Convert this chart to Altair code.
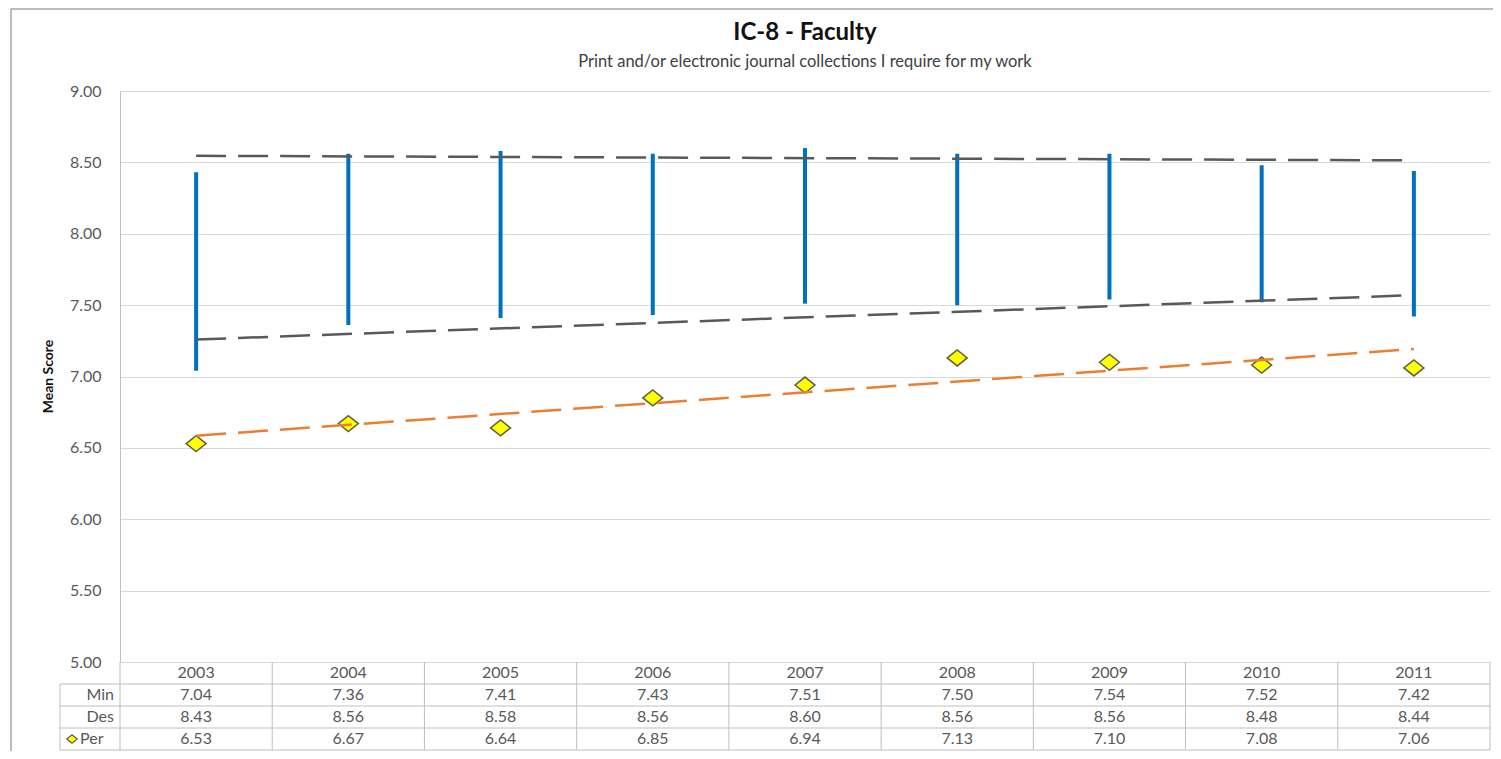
import altair as alt
import pandas as pd

# ---- data ----
years = ["2003", "2004", "2005", "2006", "2007", "2008", "2009", "2010", "2011"]
min_vals = [7.04, 7.36, 7.41, 7.43, 7.51, 7.50, 7.54, 7.52, 7.42]
des_vals = [8.43, 8.56, 8.58, 8.56, 8.60, 8.56, 8.56, 8.48, 8.44]
per_vals = [6.53, 6.67, 6.64, 6.85, 6.94, 7.13, 7.10, 7.08, 7.06]
y_ticks = [5.0, 5.5, 6.0, 6.5, 7.0, 7.5, 8.0, 8.5, 9.0]
row_labels = ["Min", "Des", "Per"]
title_text = "IC-8 - Faculty"
subtitle_text = "Print and/or electronic journal collections I require for my work"
y_title = "Mean Score"

# ---- layout ----
W, H = 1370, 571
ROW = 22
FONT = "Lato"
TXT = "#595959"
LINE = "#bfbfbf"
DIAMOND = "M-1,0L0,-0.8L1,0L0,0.8Z"

n = len(years)
df = pd.DataFrame({"year": years, "idx": list(range(n)),
                   "Min": min_vals, "Des": des_vals, "Per": per_vals})
bounds = pd.DataFrame({"b": [i - 0.5 for i in range(n + 1)]})
one = pd.DataFrame({"k": [0]})

xs = alt.Scale(domain=[-0.5, n - 0.5], nice=False, zero=False)
ys = alt.Scale(domain=[5, 9], nice=False, zero=False)
yaxis = alt.Axis(values=y_ticks, format=".2f", grid=True, gridColor="#d9d9d9",
                 gridWidth=1, domainColor=LINE, ticks=False, labelPadding=19,
                 labelFont=FONT, labelFontSize=16, labelColor=TXT, title=None)


def X(field="idx"):
    return alt.X(f"{field}:Q", scale=xs, axis=None)


def Y(field):
    return alt.Y(f"{field}:Q", scale=ys, axis=yaxis, title=None)


base = alt.Chart(df)

bars = base.mark_rule(strokeWidth=4, color="#0070C0").encode(
    x=X(), y=Y("Min"), y2="Des:Q")

diamonds = base.mark_point(shape=DIAMOND, filled=True, fill="#FFFF00",
                           stroke="#5f5f47", strokeWidth=1.5, size=400,
                           opacity=1).encode(x=X(), y=Y("Per"))


def trend(field, color):
    return base.transform_regression("idx", field).mark_line(
        color=color, strokeWidth=2.5, strokeDash=[30, 12]).encode(
        x=X(), y=Y(field))


trend_min = trend("Min", "#595959")
trend_des = trend("Des", "#595959")
trend_per = trend("Per", "#ED7D31")

# ---- data table below the plot ----
vlines = alt.Chart(bounds).mark_rule(color=LINE, strokeWidth=1).encode(
    x=X("b"), y=alt.value(H), y2=alt.value(H + 4 * ROW))

hlines = []
for i in range(1, 5):
    hlines.append(alt.Chart(one).mark_rule(color=LINE, strokeWidth=1).encode(
        x=alt.value(-60), x2=alt.value(W), y=alt.value(H + i * ROW)))
left_border = alt.Chart(one).mark_rule(color=LINE, strokeWidth=1).encode(
    x=alt.value(-60), y=alt.value(H + ROW), y2=alt.value(H + 4 * ROW))

year_txt = base.mark_text(font=FONT, fontSize=16, color=TXT).encode(
    x=X(), y=alt.value(H + ROW / 2), text="year:N")

val_txt = []
for i, f in enumerate(["Min", "Des", "Per"]):
    val_txt.append(base.mark_text(font=FONT, fontSize=16, color=TXT).encode(
        x=X(), y=alt.value(H + ROW * (i + 1) + ROW / 2),
        text=alt.Text(f"{f}:Q", format=".2f")))

lab_txt = []
for i, lab in enumerate(row_labels):
    is_per = lab == "Per"
    lab_txt.append(alt.Chart(pd.DataFrame({"label": [lab]})).mark_text(
        font=FONT, fontSize=16, color=TXT,
        align="left" if is_per else "right").encode(
        x=alt.value(-40 if is_per else -6),
        y=alt.value(H + ROW * (i + 1) + ROW / 2),
        text="label:N"))

legend_diamond = alt.Chart(one).mark_point(
    shape=DIAMOND, filled=True, fill="#FFFF00", stroke="#5f5f47",
    strokeWidth=1.2, size=110, opacity=1).encode(
    x=alt.value(-48), y=alt.value(H + 3 * ROW + ROW / 2))

# ---- titles ----
title_mark = alt.Chart(pd.DataFrame({"t": [title_text]})).mark_text(
    font=FONT, fontSize=24, fontWeight="bold", color="#111111").encode(
    x=alt.value(W / 2), y=alt.value(-58), text="t:N")
subtitle_mark = alt.Chart(pd.DataFrame({"t": [subtitle_text]})).mark_text(
    font=FONT, fontSize=16.5, color="#404040").encode(
    x=alt.value(W / 2), y=alt.value(-29), text="t:N")
ytitle_mark = alt.Chart(pd.DataFrame({"t": [y_title]})).mark_text(
    font=FONT, fontSize=14, fontWeight="bold", color="#111111", angle=270).encode(
    x=alt.value(-71), y=alt.value(H / 2), text="t:N")

# ---- outer chart border ----
border_top = alt.Chart(one).mark_rule(color="#a6a6a6", strokeWidth=1.5).encode(
    x=alt.value(-109), x2=alt.value(W + 30), y=alt.value(-82))
border_left = alt.Chart(one).mark_rule(color="#a6a6a6", strokeWidth=1.5).encode(
    x=alt.value(-109), y=alt.value(-82), y2=alt.value(H + 120))

chart = alt.layer(
    bars, diamonds, trend_min, trend_des, trend_per,
    vlines, *hlines, left_border, year_txt, *val_txt, *lab_txt, legend_diamond,
    title_mark, subtitle_mark, ytitle_mark, border_top, border_left,
).properties(
    width=W, height=H,
    padding={"left": 112, "top": 83, "right": 3, "bottom": 89},
    autosize=alt.AutoSizeParams(type="none"),
    background="white",
).configure_view(stroke=None)

chart.save("out.html", embed_options={"renderer": "svg", "actions": False})
